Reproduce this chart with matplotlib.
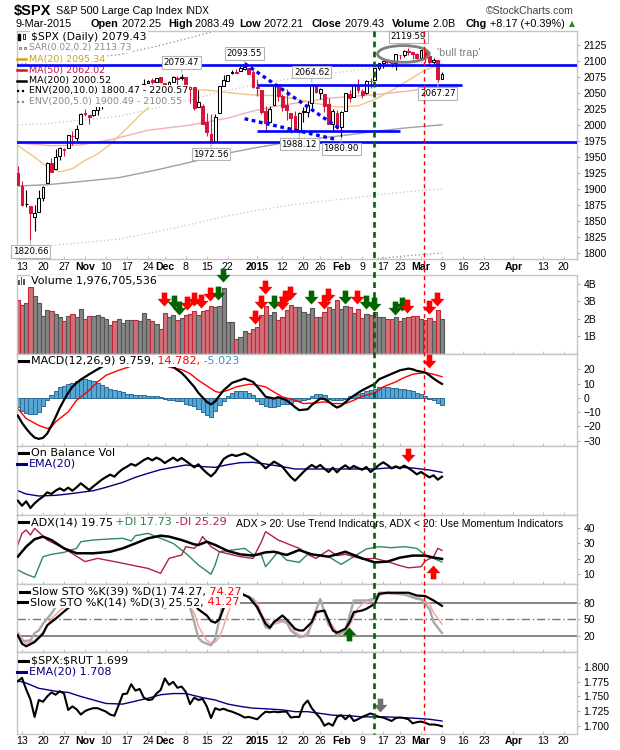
import numpy as np
import matplotlib
matplotlib.use("Agg")
import matplotlib.pyplot as plt
import matplotlib.transforms as mtransforms
from matplotlib.lines import Line2D
from matplotlib.markers import MarkerStyle
from matplotlib.patches import Ellipse, Rectangle
from matplotlib.path import Path

W, H = 620, 750

# ---------------------------------------------------------------- data
# x axis = trading-day index: 0 = 13-Oct-2014 ... 100 = 9-Mar-2015 (-1 = 10-Oct, cut at the edge)
first_day = -1
close_before = 1928.21   # 9-Oct close, only used to colour the first candle

spx_open = [1925.63, 1905.65, 1877.11, 1874.18, 1855.95, 1864.91, 1885.62, 1909.38, 1941.29, 1931.02,
            1951.59, 1962.97, 1964.14, 1983.29, 1979.49, 2001.20, 2018.21, 2015.81, 2015.29, 2023.33,
            2032.36, 2032.01, 2038.20, 2037.75, 2039.21, 2039.74, 2038.29, 2041.48, 2051.16, 2045.87,
            2057.46, 2065.07, 2070.15, 2067.36, 2074.78, 2065.78, 2053.77, 2067.45, 2073.64, 2072.78,
            2074.84, 2056.55, 2058.86, 2027.92, 2030.36, 2005.03, 1986.71, 1973.77, 2018.98, 2061.04,
            2069.28, 2081.48, 2083.25, 2084.30, 2087.63, 2088.49, 2082.11, 2058.90, 2054.44, 2022.15,
            2005.55, 2030.61, 2063.45, 2046.13, 2031.58, 2018.40, 2013.75, 1992.25, 2020.76, 2020.19,
            2034.30, 2062.98, 2050.42, 2047.86, 2032.34, 2002.45, 2019.35, 1996.67, 2022.71, 2048.86,
            2043.45, 2062.28, 2053.47, 2049.38, 2068.55, 2069.98, 2088.78, 2096.47, 2099.16, 2099.25,
            2097.65, 2109.83, 2109.10, 2115.30, 2113.91, 2110.88, 2105.23, 2115.76, 2107.72, 2098.54,
            2100.91, 2072.25]
spx_high = [1936.98, 1912.09, 1898.71, 1874.18, 1876.01, 1898.16, 1905.03, 1942.45, 1949.31, 1961.95,
            1965.27, 1964.64, 1985.05, 1991.40, 1999.40, 2018.19, 2024.46, 2015.98, 2023.77, 2031.61,
            2034.26, 2038.70, 2041.28, 2040.33, 2046.18, 2042.22, 2043.07, 2056.08, 2052.14, 2053.84,
            2071.46, 2070.17, 2074.21, 2073.29, 2075.76, 2065.78, 2068.77, 2076.28, 2077.34, 2079.47,
            2075.78, 2060.60, 2058.86, 2055.53, 2032.25, 2018.69, 2016.89, 2016.75, 2061.23, 2077.85,
            2078.76, 2086.73, 2087.56, 2092.70, 2093.55, 2088.49, 2085.58, 2072.36, 2054.44, 2030.25,
            2029.61, 2064.08, 2064.43, 2049.30, 2056.93, 2018.40, 2021.35, 2020.46, 2028.94, 2038.29,
            2064.62, 2062.98, 2057.62, 2047.86, 2042.49, 2024.64, 2023.32, 2021.66, 2050.30, 2054.74,
            2063.55, 2072.40, 2056.16, 2070.86, 2073.48, 2088.53, 2097.03, 2101.30, 2100.23, 2102.13,
            2110.61, 2110.05, 2117.94, 2119.59, 2113.91, 2112.74, 2117.52, 2115.76, 2107.72, 2104.25,
            2100.91, 2083.49]
spx_low = [1906.05, 1874.14, 1871.79, 1820.66, 1835.02, 1864.91, 1882.30, 1909.38, 1926.83, 1931.02,
           1946.27, 1951.37, 1964.14, 1969.04, 1974.75, 2001.20, 2013.68, 2001.01, 2014.42, 2015.86,
           2025.07, 2030.17, 2035.28, 2031.95, 2030.44, 2035.20, 2030.20, 2041.48, 2040.37, 2040.49,
           2056.75, 2065.07, 2064.75, 2066.62, 2065.06, 2049.57, 2053.77, 2066.65, 2062.34, 2070.81,
           2054.27, 2034.17, 2024.26, 2027.92, 2002.33, 1982.26, 1972.56, 1973.77, 2018.98, 2061.03,
           2069.28, 2079.77, 2081.86, 2084.30, 2085.75, 2079.53, 2057.94, 2046.04, 2017.34, 1992.44,
           2005.55, 2030.61, 2038.33, 2022.58, 2008.25, 1988.44, 1991.47, 1988.12, 2004.49, 2012.04,
           2026.38, 2050.54, 2040.97, 2019.91, 2001.49, 1989.18, 1993.38, 1980.90, 2022.71, 2036.72,
           2043.45, 2049.97, 2041.88, 2048.62, 2057.99, 2069.98, 2086.70, 2089.80, 2092.15, 2090.79,
           2085.44, 2103.00, 2105.87, 2109.89, 2103.76, 2103.75, 2104.50, 2098.26, 2094.49, 2095.22,
           2067.27, 2072.21]
spx_close = [1906.13, 1874.74, 1877.70, 1862.49, 1862.76, 1886.76, 1904.01, 1941.28, 1927.11, 1950.82,
             1964.58, 1961.63, 1985.05, 1982.30, 1994.65, 2018.05, 2017.81, 2012.10, 2023.57, 2031.21,
             2031.92, 2038.26, 2039.68, 2038.25, 2039.33, 2039.82, 2041.32, 2051.80, 2048.72, 2052.75,
             2063.50, 2069.41, 2067.03, 2072.83, 2067.56, 2053.44, 2066.55, 2074.33, 2071.92, 2075.37,
             2060.31, 2059.82, 2026.14, 2035.33, 2002.33, 1989.63, 1972.74, 2012.89, 2061.23, 2070.65,
             2078.54, 2082.17, 2081.88, 2088.77, 2090.57, 2080.35, 2058.90, 2058.20, 2020.58, 2002.61,
             2025.90, 2062.14, 2044.81, 2028.26, 2023.03, 2011.27, 1992.67, 2019.42, 2022.55, 2032.12,
             2063.15, 2051.82, 2057.09, 2029.55, 2002.16, 2021.25, 1994.99, 2020.85, 2050.03, 2041.51,
             2062.52, 2055.47, 2046.74, 2068.59, 2068.53, 2088.48, 2096.99, 2100.34, 2099.68, 2097.45,
             2110.30, 2109.66, 2115.48, 2113.86, 2110.74, 2104.50, 2117.39, 2107.78, 2098.53, 2101.04,
             2071.26, 2079.43]
volume_b = [3.07, 2.78, 2.93, 3.83, 3.31, 2.93, 2.17, 2.50, 2.44, 2.27,
            2.11, 1.87, 2.15, 2.27, 2.10, 2.55, 1.98, 2.17, 2.17, 2.21,
            2.11, 2.02, 1.64, 1.87, 2.02, 1.79, 1.92, 1.92, 1.92, 1.89,
            2.32, 2.02, 1.87, 1.73, 1.41, 2.32, 2.11, 2.21, 1.92, 2.06,
            2.21, 2.30, 2.44, 2.21, 2.44, 2.50, 2.74, 2.69, 2.74, 3.77,
            1.83, 1.83, 0.84, 0.97, 1.30, 1.22, 1.45, 1.54, 2.21, 2.72,
            2.21, 2.40, 1.92, 2.11, 2.50, 2.78, 2.69, 2.69, 2.40, 2.29,
            2.63, 2.11, 2.11, 2.40, 2.69, 2.59, 3.07, 2.55, 2.74, 2.69,
            2.34, 2.55, 2.06, 2.29, 2.21, 2.40, 2.11, 2.11, 1.98, 1.98,
            2.11, 1.87, 2.06, 2.11, 2.17, 2.17, 2.02, 1.92, 2.06, 1.87,
            2.50, 1.98]

# overlays: (day, value) keypoints
ma20_days = [-1, 3, 6, 9, 12, 15, 18, 21, 25, 28, 31, 35, 40, 45, 50, 55, 60, 65, 70, 75, 80, 84, 88, 92, 96, 100]
ma20_vals = [1968, 1950, 1935, 1927, 1932, 1945, 1955, 1970, 1995, 2015, 2033, 2048, 2056, 2054, 2050, 2047,
             2046, 2041, 2034, 2028, 2030, 2040, 2054, 2070, 2086, 2095.34]
ma50_days = [-1, 7, 14, 21, 30, 40, 49, 55, 61, 67, 73, 79, 85, 93, 100]
ma50_vals = [1972, 1968, 1969, 1977, 1992, 2000, 2011, 2022, 2030, 2036, 2042, 2045, 2048, 2054, 2062.02]
ma200_days = [-1, 6, 14, 23, 32, 40, 48, 55, 63, 70, 78, 85, 92, 100]
ma200_vals = [1905, 1907, 1912, 1918, 1930, 1942, 1955, 1964, 1973, 1979, 1985, 1991, 1996, 2000.52]

macd_days = [-1, 0, 1, 2, 3, 4, 5, 6, 7, 8, 9, 10, 11, 12, 13, 14, 16, 18, 20, 23, 27, 30, 33, 35, 36, 38, 39,
             41, 42, 44, 45, 46, 47, 48, 50, 53, 55, 57, 58, 60, 61, 63, 65, 66, 68, 69, 71, 72, 73, 74, 75,
             76, 78, 80, 81, 84, 85, 88, 90, 92, 93, 94, 96, 97, 98, 99, 100]
macd_vals = [-12.4, -17.5, -21.5, -25.0, -27.8, -28.7, -28.0, -25.0, -19.5, -13.5, -7.0, -1.5, 3.5, 7.7, 10.5,
             12.8, 16.5, 20.0, 23.5, 27, 29, 28, 25.5, 23, 21.7, 17.5, 14.5, 7.7, 3.5, -2.8, -4.6, -2.5, 1.5,
             5.3, 10.5, 13.5, 11.2, 4.5, 0.8, -0.5, 0.5, -1.7, -6.5, -8.6, -8.0, -5.0, -0.5, -0.8, -2.5, -5.0,
             -6.8, -5.5, -0.5, 3.5, 5.3, 9.8, 13.0, 16.8, 19.3, 20.5, 20.0, 18.9, 17.8, 15.8, 13.5, 11.5, 9.759]
signal_days = [-1, 1, 4, 6, 7, 8, 11, 13, 16, 18, 20, 23, 25, 28, 31, 34, 35, 38, 40, 42, 45, 46, 47, 49, 51,
               54, 55, 58, 60, 62, 65, 67, 70, 72, 74, 77, 79, 81, 84, 86, 89, 91, 93, 96, 98, 100]
signal_vals = [-7.5, -14.5, -19.3, -21.4, -20.5, -16.8, -9.8, -1.7, 5.3, 11.2, 15.8, 19.3, 21.2, 24, 25, 23.5,
               21.5, 19.8, 17.0, 12.3, 6.5, 4.5, 3.8, 5.3, 7.7, 9.5, 9.5, 7.7, 4.1, 0.7, -1.7, -4.0, -3.5, -2.8,
               -4.0, -4.0, -1.7, 1.1, 3.5, 7.7, 11.2, 14.2, 16.5, 17.7, 16.5, 14.782]
macd_hist = [-6.3, -9, -10.5, -11.5, -11.5, -10, -6, -1.5, 2, 5,
             7.5, 8.5, 9.5, 10.5, 11.5, 13, 13.5, 12.5, 11.5, 10.5,
             9, 7.5, 6.5, 5.5, 4.5, 3.8, 3, 2.5, 2.2, 2,
             1.8, 1.6, 1.5, 1.3, 0.8, -1, -1.5, -1.7, -2, -2.5,
             -4, -5, -6, -7.5, -10, -12, -13.3, -9, -5, -2.5,
             1.5, 3.5, 4.5, 4.8, 4.5, 3.5, 1.8, -2, -4, -5.5,
             -6.5, -6.5, -5.5, -4.5, -4, -3.5, -2.5, -2, -1.5, -0.5,
             1.5, 2.5, 2.5, 2, -1, -1.5, -1.8, -1.5, -0.5, 1,
             1.8, 2.5, 3.5, 4.5, 5.3, 6.5, 7.5, 7.7, 7.5, 7.2,
             6.8, 6.5, 6, 5.3, 4.5, 3.5, 2.5, 1.5, -1.0, -1.7,
             -3.5, -5.023]

obv = [4.3, 2.8, 4.1, 2.1, 3.5, 4.6, 5.5, 6.8, 6.3, 7.3,
       8.0, 7.3, 8.2, 7.3, 8.3, 9.5, 8.5, 7.5, 8.6, 9.6,
       10.6, 11.4, 12.1, 11.5, 12.8, 13.8, 14.5, 15.3, 14.8, 15.6,
       16.5, 17.1, 16.4, 17.2, 16.6, 15.6, 16.4, 17.2, 16.3, 17.1,
       16.2, 15.3, 14.3, 15.2, 13.8, 12.6, 11.6, 12.8, 14.8, 16.8,
       17.6, 18.1, 17.7, 18.1, 18.5, 17.9, 17.1, 16.3, 15.3, 14.0,
       15.0, 16.0, 15.3, 14.5, 12.9, 11.4, 10.3, 11.6, 12.9, 14.1,
       15.0, 14.2, 15.0, 13.9, 12.9, 14.2, 12.8, 14.1, 14.9, 13.9,
       14.7, 14.1, 13.6, 14.4, 12.9, 13.9, 15.0, 15.8, 15.0, 14.0,
       14.6, 14.0, 14.8, 14.1, 13.2, 12.2, 12.9, 12.1, 11.3, 11.9,
       10.6, 11.5]
obv_ema_days = [-1, 1, 4, 8, 11, 14, 17, 20, 24, 27, 30, 33, 36, 39, 43, 46, 49, 52, 55, 58, 62, 65, 68,
                71, 74, 78, 81, 84, 87, 90, 93, 97, 100]
obv_ema_vals = [7.3, 6.3, 5.7, 5.9, 6.3, 6.8, 7.3, 8.3, 9.8, 11.3, 12.5, 13.6, 14.3, 15.0, 14.5, 14.3, 15.1,
                15.7, 15.8, 15.3, 14.5, 13.8, 13.8, 13.8, 13.8, 13.8, 13.8, 13.8, 14.1, 14.3, 14.1, 13.5, 12.8]

adx_days = [-1, 1, 3, 5, 7, 10, 13, 17, 21, 24, 27, 30, 33, 35, 38, 41, 42, 44, 46, 49, 52, 55, 58, 60, 63,
            66, 69, 73, 77, 81, 84, 87, 90, 93, 96, 98, 100]
adx_vals = [21.2, 27.7, 32.5, 34.2, 32, 26.6, 23.4, 23.4, 24.4, 26.6, 29.8, 33.1, 34.8, 34.2, 32, 29.2, 28.8,
            30.9, 28.8, 24.9, 22.7, 21.9, 24, 24.4, 22.3, 25.5, 22.7, 21.2, 24.4, 20.1, 17.5, 18, 20.6, 21.9,
            21.9, 20.6, 19.75]
pdi_days = [-1, 1, 3, 5, 7, 10, 13, 14, 17, 21, 24, 26, 27, 30, 33, 36, 39, 42, 45, 46, 47, 50, 53, 55, 57,
            58, 61, 63, 66, 68, 71, 73, 76, 79, 82, 85, 88, 91, 94, 96, 98, 100]
pdi_vals = [12.6, 9.8, 7.8, 21.2, 22.7, 24, 26.6, 30.9, 32, 32.7, 33.1, 31.4, 34.8, 36.3, 33.1, 29.8, 23.4,
            15.8, 9.8, 16, 24.4, 25.5, 26.6, 22.7, 22.3, 14.7, 24.4, 19, 17.5, 22.7, 22.3, 21.2, 16.2, 21.2,
            26.2, 27.7, 27, 27.7, 26.6, 22.3, 20.1, 17.73]
mdi_days = [-1, 0, 1, 2, 3, 6, 10, 15, 18, 22, 26, 30, 33, 35, 38, 39, 41, 42, 43, 45, 47, 52, 55, 57, 58,
            61, 63, 66, 68, 70, 73, 75, 77, 81, 84, 87, 90, 92, 95, 96, 98, 99, 100]
mdi_vals = [28.8, 36.3, 38.5, 35.2, 39.6, 32, 26.6, 18, 20.1, 18, 15.8, 13.6, 10.4, 20.1, 22.3, 27.7, 26.6,
            29.2, 34.2, 27.7, 24.4, 21.2, 20.1, 30.9, 37.4, 32, 29.8, 26.6, 22.7, 20.1, 25.5, 21.9, 22.7,
            19.7, 20.1, 18, 15.4, 14, 14.7, 18.4, 21.2, 26.6, 25.29]

k39_days = [-1, 0, 1, 3, 5, 6, 8, 11, 13, 15, 18, 22, 27, 31, 34, 37, 39, 41, 42, 44, 45, 46, 47, 48, 49, 50,
            52, 54, 56, 58, 59, 60, 62, 63, 65, 66, 67, 69, 70, 72, 73, 74, 75, 77, 78, 79, 81, 82, 84, 85,
            87, 89, 92, 94, 96, 98, 100]
k39_vals = [21.2, 6.2, 1.4, 9.2, 24.2, 39.2, 51.2, 70.4, 82, 90, 96, 98, 98, 97, 90, 94, 92, 78, 68, 57, 47,
            44, 50, 70, 87, 96, 97, 90, 72, 42, 35, 45, 57, 50, 33, 30, 30, 45, 63, 66, 48, 30, 26, 33, 45,
            63, 66, 69, 78, 96, 98, 98, 98, 93, 92, 84, 74.27]
k14_days = [-1, 0, 2, 3, 4, 5, 7, 8, 10, 13, 17, 21, 25, 30, 33, 34, 35, 37, 39, 40, 41, 42, 43, 45, 46, 47,
            48, 49, 52, 55, 56, 57, 58, 59, 60, 62, 63, 64, 65, 66, 68, 69, 71, 72, 73, 74, 75, 76, 77, 78,
            79, 81, 82, 84, 85, 87, 89, 91, 94, 95, 97, 98, 99, 100]
k14_vals = [24.2, 10.4, 12.2, 25, 30.2, 42.2, 60.2, 72.2, 85, 95, 92, 90, 88, 95, 88, 70, 76, 92, 80, 72.2,
            45.2, 16.4, 9.2, 3.2, 15.2, 51.2, 84.2, 95, 97, 87, 70, 55, 36, 33, 46, 48, 45, 30, 24, 18, 21,
            45, 87, 63, 40, 33, 21, 25, 30, 57, 84, 84, 84, 87, 98, 98, 96, 95, 87, 86, 69, 45, 35, 25.52]
d3_days = [-1, 1, 3, 5, 7, 9, 11, 15, 20, 25, 30, 34, 36, 38, 40, 41, 42, 43, 44, 45, 46, 47, 48, 49, 50, 52,
           54, 56, 57, 58, 59, 61, 62, 64, 65, 66, 67, 68, 69, 70, 71, 72, 73, 74, 75, 76, 77, 78, 79, 80,
           81, 83, 84, 85, 86, 89, 92, 95, 97, 98, 99, 100]
d3_vals = [27, 6, 12, 27, 51, 66, 78, 92, 92, 90, 92, 80, 78, 85, 72, 62, 38, 24, 12, 7, 9, 18, 38, 60, 80,
           94, 92, 81, 60, 48, 40, 43, 46, 39, 27, 22, 20, 28, 40, 57, 66, 62, 48, 38, 27, 25, 28, 39, 55, 70,
           78, 82, 86, 92, 96, 96, 93, 88, 78, 62, 52, 41.27]

spx_rut = [1.776, 1.782, 1.762, 1.745, 1.715, 1.744, 1.741, 1.750, 1.757, 1.753,
           1.759, 1.755, 1.727, 1.733, 1.728, 1.719, 1.725, 1.728, 1.730, 1.730,
           1.727, 1.724, 1.719, 1.717, 1.735, 1.754, 1.755, 1.771, 1.760, 1.763,
           1.748, 1.744, 1.745, 1.755, 1.761, 1.781, 1.770, 1.775, 1.765, 1.767,
           1.758, 1.737, 1.748, 1.744, 1.746, 1.733, 1.713, 1.730, 1.727, 1.729,
           1.726, 1.724, 1.721, 1.718, 1.714, 1.715, 1.713, 1.711, 1.718, 1.724,
           1.723, 1.724, 1.723, 1.724, 1.724, 1.714, 1.715, 1.715, 1.735, 1.743,
           1.730, 1.721, 1.713, 1.700, 1.704, 1.700, 1.715, 1.718, 1.711, 1.718,
           1.708, 1.711, 1.715, 1.718, 1.721, 1.718, 1.715, 1.714, 1.711, 1.708,
           1.713, 1.714, 1.713, 1.711, 1.704, 1.706, 1.707, 1.705, 1.702, 1.702,
           1.701, 1.699]
rut_ema_days = [-1, 1, 4, 8, 11, 14, 17, 20, 24, 27, 30, 33, 36, 39, 43, 46, 49, 52, 55, 58, 62, 65, 68, 71,
                74, 78, 81, 84, 87, 90, 93, 97, 100]
rut_ema_vals = [1.777, 1.773, 1.764, 1.759, 1.757, 1.750, 1.744, 1.738, 1.737, 1.742, 1.747, 1.753, 1.755,
                1.755, 1.748, 1.744, 1.737, 1.733, 1.730, 1.729, 1.727, 1.724, 1.724, 1.721, 1.718, 1.717,
                1.715, 1.715, 1.715, 1.714, 1.713, 1.711, 1.708]

# annotations
marked_high_days = [38, 53, 69, 92]
marked_low_days = [2, 45, 66, 76, 99]
full_levels = [2093.5, 1974.0]                       # blue lines across the whole panel
part_levels = [(2062.0, 56, 104.7), (1991.3, 56, 90)]  # (level, from day, to day)
wedge_lines = [((53, 2096), (75.5, 1995)), ((53, 2010), (74.5, 1978))]
green_mark_day, red_mark_day = 83.8, 95.8
vol_arrows = [(33.8, 2.75, 'r'), (36.2, 2.55, 'g'), (37.4, 2.25, 'g'), (39.2, 2.5, 'r'), (41, 2.75, 'r'),
              (42.6, 2.65, 'r'), (44.7, 3.05, 'r'), (46.7, 3.1, 'g'), (47.8, 4.1, 'g'), (55.5, 1.73, 'r'),
              (56.8, 2.59, 'r'), (57.9, 3.45, 'r'), (60, 2.59, 'g'), (61.8, 2.5, 'r'), (62.6, 2.87, 'r'),
              (63.8, 3.06, 'r'), (68.7, 2.87, 'g'), (71.9, 2.59, 'r'), (72.8, 2.97, 'r'), (76.9, 2.87, 'g'),
              (79.7, 2.87, 'r'), (81.9, 2.56, 'g'), (83.8, 2.44, 'g'), (88.8, 2.25, 'g'), (90.4, 2.44, 'g'),
              (91.6, 2.36, 'r'), (97, 2.3, 'r'), (98.9, 2.74, 'r')]

tick_days = [0, 5, 10, 15, 20, 25, 30, 34, 39, 44, 49, 56, 62, 67, 71, 76, 81, 86, 90, 95, 100, 105, 110,
             117, 124, 129]
tick_text = ['13', '20', '27', 'Nov', '10', '17', '24', 'Dec', '8', '15', '22', '2015', '12', '20', '26',
             'Feb', '9', '17', '23', 'Mar', '9', '16', '23', 'Apr', '13', '20']

# ---------------------------------------------------------------- style
RED = '#d8143a'
ARROW_COL = {'r': '#ff0000', 'g': '#006400', 'k': '#707070'}
plt.rcParams['font.family'] = ['Liberation Sans', 'DejaVu Sans']

days = np.arange(first_day, first_day + len(spx_close))
prev_close = [close_before] + spx_close[:-1]
down_day = np.array(spx_close) < np.array(prev_close)

L_PX, R_PX = 16.5, 577
XMIN, XMAX = (L_PX - 22) / 4.2, (R_PX - 22) / 4.2

fig = plt.figure(figsize=(W / 100, H / 100), dpi=100)
fig.patch.set_facecolor('white')
rend = fig.canvas.get_renderer()


def fx(x):
    return x / W


def fy(y):
    return 1 - y / H


def panel(top, bottom, ylim, yticks=None, fmt=None):
    ax = fig.add_axes([fx(L_PX), fy(bottom), (R_PX - L_PX) / W, (bottom - top) / H])
    ax.set_xlim(XMIN, XMAX)
    ax.set_ylim(*ylim)
    for s in ax.spines.values():
        s.set_color('#c4c4c4')
        s.set_linewidth(1)
    ax.yaxis.tick_right()
    ax.set_xticks(tick_days)
    ax.tick_params(axis='x', direction='in', length=2.5, width=0.6, color='#b8b8b8', labelbottom=False)
    ax.tick_params(axis='y', direction='out', length=2.5, width=0.6, color='#999999',
                   labelsize=7.5, pad=2)
    if yticks is None:
        ax.set_yticks([])
    else:
        ax.set_yticks(yticks)
        if fmt:
            ax.set_yticklabels([fmt(v) for v in yticks])
    return ax


def legend_row(ax, x, y, parts, size=8.0, icon=None, bg=True, family='DejaVu Sans'):
    if icon is not None:
        col, ls, lw = icon
        ax.add_line(Line2D([fx(x - 12), fx(x - 3)], [fy(y), fy(y)], transform=fig.transFigure,
                           color=col, ls=ls, lw=lw, clip_on=False, zorder=9))
    for s, col in parts:
        t = ax.text(fx(x), fy(y), s, transform=fig.transFigure, color=col, fontsize=size,
                    family=family, ha='left', va='center', zorder=8, clip_on=False)
        if bg:
            t.set_bbox(dict(fc='white', ec='none', pad=0.8))
        x += t.get_window_extent(rend).width


def date_labels(ax, y):
    tr = mtransforms.blended_transform_factory(ax.transData, fig.transFigure)
    for d, s in zip(tick_days, tick_text):
        bold = not s.isdigit() or s == '2015'
        ax.text(d, fy(y), s, transform=tr, ha='center', va='center', fontsize=7.6,
                weight='bold' if bold else 'normal', clip_on=False)


arrow_verts = [(0, 0), (-0.5, 0.55), (-0.2, 0.55), (-0.2, 1), (0.2, 1), (0.2, 0.55), (0.5, 0.55), (0, 0)]
arrow_codes = [Path.MOVETO] + [Path.LINETO] * 6 + [Path.CLOSEPOLY]
DOWN = MarkerStyle(Path(arrow_verts, arrow_codes))
UP = MarkerStyle(Path([(vx, -vy) for vx, vy in arrow_verts], arrow_codes))


def arrow(ax, d, v, col, up=False):
    ax.plot([d], [v], marker=UP if up else DOWN, markersize=20, color=ARROW_COL[col],
            markeredgewidth=0, ls='none', clip_on=False, zorder=12)


# ---------------------------------------------------------------- header
fig.text(fx(14), fy(11), '\\$SPX', fontsize=10.5, weight='bold', va='center')
fig.text(fx(56), fy(11.5), 'S&P 500 Large Cap Index', fontsize=7.8, va='center')
fig.text(fx(185), fy(11.5), 'INDX', fontsize=7.2, va='center')
fig.text(fx(574), fy(11.5), '\u00a9StockCharts.com', fontsize=7.6, va='center', ha='right', color='#404040')
header = [(16, [('9-Mar-2015', 'normal')]), (91, [('Open', 'bold'), (' 2072.25', 'normal')]),
          (168, [('High', 'bold'), (' 2083.49', 'normal')]), (239, [('Low', 'bold'), (' 2072.21', 'normal')]),
          (312, [('Close', 'bold'), (' 2079.43', 'normal')]), (392, [('Volume', 'bold'), (' 2.0B', 'normal')]),
          (466, [('Chg', 'bold'), (' +8.17 (+0.39%)', 'normal')])]
for x0, parts in header:
    for s, wt in parts:
        t = fig.text(fx(x0), fy(24), s, fontsize=7.8, weight=wt, va='center')
        x0 += t.get_window_extent(rend).width
fig.text(fx(569), fy(24), '\u25b2', fontsize=5.5, color='#228b22', va='center', family='DejaVu Sans')

# ---------------------------------------------------------------- price panel
ax = panel(31, 258.7, (1791.6, 2146.8), list(range(1800, 2126, 25)))
ax.plot(ma200_days, np.array(ma200_vals) * 1.10, color='#8a8a8a', lw=0.9, ls=(0, (1, 2)), zorder=1)
ax.plot(ma200_days, np.array(ma200_vals) * 0.90, color='#8a8a8a', lw=0.9, ls=(0, (1, 2)), zorder=1)
ax.plot(ma200_days, np.array(ma200_vals) * 1.05, color='#c4c4c4', lw=0.9, ls=(0, (1, 2)), zorder=1)
ax.plot(ma200_days, np.array(ma200_vals) * 0.95, color='#c4c4c4', lw=0.9, ls=(0, (1, 2)), zorder=1)
ax.plot(ma200_days, ma200_vals, color='#a0a0a0', lw=1.0, zorder=1)
ax.plot(ma50_days, ma50_vals, color='#eeb0b8', lw=1.0, zorder=1)
ax.plot(ma20_days, ma20_vals, color='#f0c488', lw=1.0, zorder=1)

for d, o, h, l, c, dn in zip(days, spx_open, spx_high, spx_low, spx_close, down_day):
    col = RED if dn else 'black'
    ax.vlines(d, l, h, color=col, lw=0.8, zorder=3)
    face = 'white' if c >= o else col
    ax.add_patch(Rectangle((d - 0.33, min(o, c)), 0.66, max(abs(c - o), 0.4), facecolor=face,
                           edgecolor=col, lw=0.75, zorder=4))

for lvl in full_levels:
    ax.axhline(lvl, color='#0000ff', lw=1.9, zorder=10)
for lvl, d0, d1 in part_levels:
    ax.plot([d0, d1], [lvl, lvl], color='#0000ff', lw=1.9, zorder=10, solid_capstyle='butt')
for (d0, v0), (d1, v1) in wedge_lines:
    ax.plot([d0, d1], [v0, v1], color='#0000ff', lw=2.4, ls=(0, (1.1, 1.1)), zorder=10)

box = dict(boxstyle='square,pad=0.2', fc='white', ec='#b4b4b4', lw=0.8)
for d in marked_high_days:
    v = spx_high[d - first_day]
    ax.annotate(f'{v:.2f}', (d, v), xytext=(0, 8.3), textcoords='offset points', ha='center', va='center',
                fontsize=6.2, family='DejaVu Sans', bbox=box, zorder=11,
                arrowprops=dict(arrowstyle='-', color='#b4b4b4', lw=0.8, shrinkA=0, shrinkB=1))
for d in marked_low_days:
    v = spx_low[d - first_day]
    ax.annotate(f'{v:.2f}', (d, v), xytext=(0, -8.3), textcoords='offset points', ha='center', va='center',
                fontsize=6.2, family='DejaVu Sans', bbox=box, zorder=11,
                arrowprops=dict(arrowstyle='-', color='#b4b4b4', lw=0.8, shrinkA=0, shrinkB=1))

ax.add_patch(Ellipse((90.8, 2111), 12.3, 26, fill=False, ec='#808080', lw=2, zorder=11))
ax.text(98.7, 2112, "'bull trap'", color='#808080', fontsize=7.8, ha='left', va='center', zorder=11)

leg = 6.8
legend_row(ax, 31, 37, [('\\$SPX (Daily) 2079.43', 'black')], size=7.8)
legend_row(ax, 29, 47.7, [('SAR(0.02,0.2) 2113.73', '#8a8a8a')], size=6.5)
legend_row(ax, 29, 59.2, [('MA(20) 2095.34', '#d4a017')], size=leg, icon=('#d4a017', '-', 1.8))
legend_row(ax, 29, 70, [('MA(50) 2062.02', '#cc1040')], size=leg, icon=('#cc1040', '-', 1.8))
legend_row(ax, 29, 80.5, [('MA(200) 2000.52', 'black')], size=leg, icon=('black', '-', 1.8))
legend_row(ax, 29, 91, [('ENV(200,10.0) 1800.47 - 2200.57', 'black')], size=leg,
           icon=('black', (0, (1, 1.2)), 1.6))
legend_row(ax, 29, 101.5, [('ENV(200,5.0) 1900.49 - 2100.55', '#8a8a8a')], size=leg,
           icon=('#8a8a8a', (0, (1, 1.2)), 1.6))
# tiny icons (candles, SAR dots)
fig.patches.append(Rectangle((fx(18), fy(40)), 2 / W, 6 / H, transform=fig.transFigure, fc='black', ec='black'))
fig.patches.append(Rectangle((fx(22.5), fy(39)), 2 / W, 5 / H, transform=fig.transFigure, fc='white', ec='black', lw=0.6))
for xx in (19, 23.5):
    fig.patches.append(Rectangle((fx(xx), fy(49)), 2.4 / W, 2.4 / H, transform=fig.transFigure,
                                 fc='white', ec='#8a8a8a', lw=0.8))
date_labels(ax, 267)

# ---------------------------------------------------------------- volume
ax = panel(274.5, 354, (0, 4.54), [1, 2, 3, 4], lambda v: f'{v}B')
face = np.where(down_day, '#d0707a', '#858585')
edge = np.where(down_day, '#c02838', '#555555')
ax.bar(days, volume_b, width=1.0, color=face, edgecolor=edge, lw=0.8, zorder=2)
for d, v, c in vol_arrows:
    arrow(ax, d, v, c)
legend_row(ax, 31, 281, [('Volume 1,976,705,536', 'black')])
for xx, hh in ((18, 5), (20.5, 8), (23, 6)):
    fig.patches.append(Rectangle((fx(xx), fy(285)), 1.8 / W, hh / H, transform=fig.transFigure,
                                 fc='#555555', ec='none'))

# ---------------------------------------------------------------- MACD
ax = panel(354, 446, (-33.7, 30.7), [-30, -20, -10, 0, 10, 20])
ax.bar(days, macd_hist, width=1.0, color='#56a6d6', edgecolor='#2c6c98', lw=0.7, zorder=1)
ax.plot(signal_days, signal_vals, color='#ff0000', lw=1.0, zorder=2)
ax.plot(macd_days, macd_vals, color='black', lw=1.6, zorder=3)
legend_row(ax, 31, 360.7, [('MACD(12,26,9) 9.759,', 'black'), (' 14.782,', '#ff0000'), (' -5.023', '#3399cc')],
           icon=('black', '-', 2.2))
arrow(ax, 96.8, 21.2, 'r')

# ---------------------------------------------------------------- On Balance Volume
ax = panel(446, 515, (0, 20.7))
ax.plot(obv_ema_days, obv_ema_vals, color='#000080', lw=1.0, zorder=2)
ax.plot(days, obv, color='black', lw=1.6, zorder=3)
legend_row(ax, 31, 453.3, [('On Balance Vol', 'black')], icon=('black', '-', 2.2))
legend_row(ax, 29, 464, [('EMA(20)', '#000080')], icon=('#000080', '-', 2.2))
arrow(ax, 91.9, 15.8, 'r')

# ---------------------------------------------------------------- ADX
ax = panel(515, 584, (3.5, 48.2), [10, 20, 30, 40])
ax.plot(pdi_days, pdi_vals, color='#2e8b57', lw=1.0, zorder=2)
ax.plot(mdi_days, mdi_vals, color='#b0204a', lw=1.0, zorder=2)
ax.plot(adx_days, adx_vals, color='black', lw=1.8, zorder=3)
legend_row(ax, 31, 522.3, [('ADX(14) 19.75', 'black'), ('\u2009+DI 17.73', '#2e7d4a'), (' -DI 25.29', '#b0204a')],
           icon=('black', '-', 2.2))
legend_row(ax, 235.7, 524, [('ADX > 20: Use Trend Indicators, ADX < 20: Use Momentum Indicators', 'black')],
           size=7.6, family='Liberation Sans')
arrow(ax, 97.9, 15.8, 'r', up=True)

# ---------------------------------------------------------------- Slow stochastics
ax = panel(584, 652, (-8.8, 113.7), [20, 50, 80])
ax.axhline(80, color='#666666', lw=1.1, zorder=1)
ax.axhline(20, color='#666666', lw=1.1, zorder=1)
ax.axhline(50, color='#777777', lw=1.0, ls=(0, (6, 2, 1, 2)), zorder=1)
ax.plot(d3_days, d3_vals, color='#f4a4a4', lw=1.1, zorder=2)
ax.plot(k14_days, k14_vals, color='#a8a8a8', lw=1.7, zorder=3)
ax.plot(k39_days, k39_vals, color='black', lw=1.6, zorder=4)
legend_row(ax, 32, 591.7, [('Slow STO %K(39) %D(1) 74.27,', 'black'), (' 74.27', '#ff0000')],
           icon=('black', '-', 2.2))
legend_row(ax, 30, 602.3, [('Slow STO %K(14) %D(3) 25.52,', 'black'), (' 41.27', '#ff0000')],
           icon=('black', '-', 2.2))
arrow(ax, 77.9, 36.2, 'g', up=True)

# ---------------------------------------------------------------- $SPX:$RUT
ax = panel(652, 733.5, (1.6866, 1.8262), [1.700, 1.725, 1.750, 1.775, 1.800], lambda v: f'{v:.3f}')
ax.plot(rut_ema_days, rut_ema_vals, color='#000080', lw=1.0, zorder=2)
ax.plot(days, spx_rut, color='black', lw=1.5, zorder=3)
legend_row(ax, 31, 660.7, [('\\$SPX:\\$RUT 1.699', 'black')], icon=('black', '-', 2.2))
legend_row(ax, 29, 671.7, [('EMA(20) 1.708', '#000080')], icon=('#000080', '-', 2.2))
arrow(ax, 85.2, 1.724, 'k')
date_labels(ax, 741.5)

# ---------------------------------------------------------------- vertical marker lines
price_ax = fig.axes[0]
tr = mtransforms.blended_transform_factory(price_ax.transData, fig.transFigure)
fig.add_artist(Line2D([green_mark_day] * 2, [fy(31), fy(733.5)], transform=tr, color='#006400', lw=1.9,
                      ls=(0, (2.2, 1.6)), zorder=20))
fig.add_artist(Line2D([red_mark_day] * 2, [fy(31), fy(733.5)], transform=tr, color='#ff0000', lw=1.0,
                      ls=(0, (3, 2.5)), zorder=20))

fig.savefig('out.png', dpi=100, facecolor='white')
